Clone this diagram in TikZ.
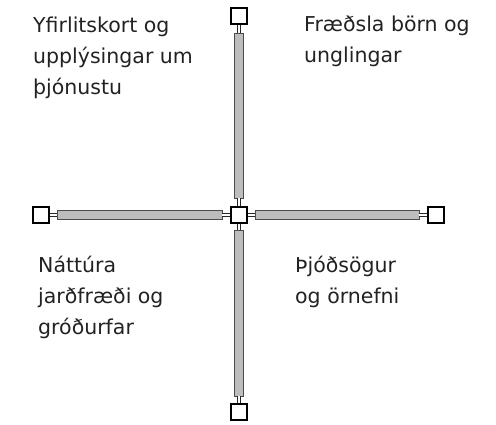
\documentclass[tikz,border=0pt]{standalone}
\usepackage{fontspec}
\setmainfont{DejaVu Sans}
\definecolor{barfill}{HTML}{BDBDBD}
\definecolor{txt}{HTML}{222222}
\begin{document}
\begin{tikzpicture}[x=1pt,y=-1pt,
  sq/.style={draw=black, line width=1.6pt, fill=white, minimum size=16.5pt, inner sep=0pt},
  pipe/.style={draw=black!70, line width=0.8pt, fill=barfill, inner sep=0pt},
  link/.style={draw=black!85, line width=0.7pt, double=white, double distance=2.6pt},
  lbl/.style={anchor=base west, align=left, inner sep=0pt, font=\fontsize{20.5}{31}\selectfont, text=txt}]
\useasboundingbox (0,0) rectangle (496,424);
% boxes
\node[sq] (C) at (239,215) {};
\node[sq] (T) at (239,16) {};
\node[sq] (B) at (239,412) {};
\node[sq] (L) at (41,215) {};
\node[sq] (R) at (436,215) {};
% bars
\node[pipe, minimum width=9pt, minimum height=165pt] (bt) at (239,115.5) {};
\node[pipe, minimum width=9pt, minimum height=166pt] (bb) at (239,313) {};
\node[pipe, minimum width=165pt, minimum height=9pt] (bl) at (139.5,215) {};
\node[pipe, minimum width=164pt, minimum height=9pt] (br) at (337,215) {};
% links
\draw[link] (T.south) -- (bt.north);
\draw[link] (bt.south) -- (C.north);
\draw[link] (C.south) -- (bb.north);
\draw[link] (bb.south) -- (B.north);
\draw[link] (L.east) -- (bl.west);
\draw[link] (bl.east) -- (C.west);
\draw[link] (C.east) -- (br.west);
\draw[link] (br.east) -- (R.west);
% labels (anchored at the baseline of the last line)
\node[lbl] (tl) at (33,94) {Yfirlitskort og\\upplýsingar um\\þjónustu};
\node[lbl] (tr) at (304,62) {Fræðsla börn og\\unglingar};
\node[lbl] (bl2) at (38,334) {Náttúra\\jarðfræði og\\gróðurfar};
\node[lbl] (br2) at (295,303) {Þjóðsögur\\og örnefni};
\end{tikzpicture}
\end{document}
